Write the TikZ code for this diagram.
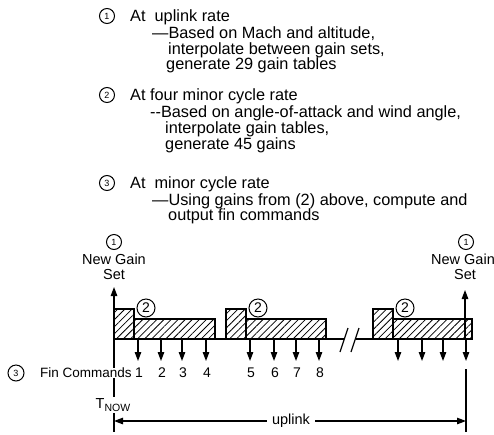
\documentclass[tikz,border=0pt]{standalone}
\usepackage{fontspec}
\setmainfont{Liberation Sans}
\usetikzlibrary{arrows.meta,patterns.meta}
\begin{document}
\begin{tikzpicture}[x=1pt,y=-1pt,
  txt/.style={inner sep=0pt,anchor=base west,font=\fontsize{16.3}{16}\selectfont},
  lbl/.style={inner sep=0pt,font=\fontsize{14.5}{15}\selectfont},
  numc/.style={circle,draw,line width=1pt,minimum size=15pt,inner sep=0pt,font=\fontsize{9}{9}\selectfont},
  bignumc/.style={circle,draw,line width=1pt,minimum size=18pt,inner sep=0pt,font=\fontsize{14}{14}\selectfont},
  hatchbox/.style={draw,line width=1.2pt,pattern={Lines[angle=45,distance=5pt,line width=0.8pt]}},
  axis/.style={line width=1.2pt},
  arr/.style={line width=1.2pt,-{Triangle[width=6.5pt,length=9pt]}},
  both/.style={line width=1.2pt,{Triangle[width=6.5pt,length=9pt]}-{Triangle[width=6.5pt,length=9pt]}}]
\useasboundingbox (0,0) rectangle (494,434);

% ---- text block ----
\node[numc] (c1) at (107,16) {1};
\node[txt] (t11) at (130,21.5) {At\ \ uplink rate};
\node[txt] (t12) at (152,38) {---Based on Mach and altitude,};
\node[txt] (t13) at (168,54) {interpolate between gain sets,};
\node[txt] (t14) at (166,69.5) {generate 29 gain tables};

\node[numc] (c2) at (107,95) {2};
\node[txt] (t21) at (130,100.5) {At four minor cycle rate};
\node[txt] (t22) at (150,117) {-{}-Based on angle-of-attack and wind angle,};
\node[txt] (t23) at (165,133.5) {interpolate gain tables,};
\node[txt] (t24) at (165,149.5) {generate 45 gains};

\node[numc] (c3) at (107,183) {3};
\node[txt] (t31) at (130,188.5) {At\ \ minor cycle rate};
\node[txt] (t32) at (152,205.5) {---Using gains from (2) above, compute and};
\node[txt] (t33) at (168,220.5) {output fin commands};

% ---- coordinates ----
\coordinate (L0) at (114,339);
\coordinate (Ltop) at (114,287);
\coordinate (Lbot) at (114,432);
\coordinate (R0) at (465,339);
\coordinate (Rtop) at (465,290);
\coordinate (Rmid) at (466,369);
\coordinate (Rbot) at (466,432);
\coordinate (B1) at (344,339);
\coordinate (B2) at (356,339);
\coordinate (Bend) at (472,339);
\coordinate (UL) at (114,421);
\coordinate (UR) at (466,421);

% ---- hatched boxes ----
\draw[hatchbox] (114,309) rectangle (134,339);
\draw[hatchbox] (134,319) rectangle (215,339);
\draw[hatchbox] (226,309) rectangle (246,339);
\draw[hatchbox] (246,319) rectangle (326,339);
\draw[hatchbox] (373,309) rectangle (393,339);
\draw[hatchbox] (393,319) rectangle (472,339);

% ---- axes ----
\draw[axis] (L0) -- (B1);
\draw[axis] (B2) -- (Bend);
\draw[axis] (340,352) -- (348,328);
\draw[axis] (351,352) -- (359,328);
\draw[arr] (L0) -- (Ltop);
\draw[arr] (R0) -- (Rtop);
\draw[axis] (L0) -- (Lbot);
\draw[axis] (Rmid) -- (Rbot);

% ---- minor-cycle arrows ----
\foreach \x/\n in {138/a1,161/a2,182/a3,206/a4,250/a5,274/a6,296/a7,319/a8,398/a9,422/a10,443/a11,466/a12}{
  \coordinate (\n s) at (\x,339);
  \coordinate (\n e) at (\x,361);
  \draw[arr] (\n s) -- (\n e);
}
\foreach \x/\k in {139/1,162/2,183/3,207/4,251/5,275/6,297/7,320/8}{
  \node[lbl,font=\fontsize{14}{14}\selectfont] (n\k) at (\x,373) {\k};
}

% ---- labels ----
\node[numc] (g1) at (114,242) {1};
\node[lbl] (g1a) at (114,259) {New Gain};
\node[lbl] (g1b) at (114,275) {Set};
\node[numc] (g2) at (466,242) {1};
\node[lbl] (g2a) at (463,259) {New Gain};
\node[lbl] (g2b) at (465,275) {Set};

\node[bignumc] (p1) at (146,308) {2};
\node[bignumc] (p2) at (258,308) {2};
\node[bignumc] (p3) at (405,308) {2};

\node[numc,minimum size=16pt] (c3b) at (16,373) {3};
\node[lbl,font=\fontsize{13.5}{14}\selectfont,anchor=west,fill=white,inner xsep=1pt] (fc) at (39,373) {Fin Commands};
\node[lbl,fill=white,inner sep=1pt] (tnow) at (113,405) {T\raisebox{-3.5pt}{\fontsize{10.5}{10.5}\selectfont NOW}};

\draw[both] (UL) -- (UR);
\node[lbl,fill=white,inner xsep=5pt] (up) at (291,421) {uplink};
\end{tikzpicture}
\end{document}
